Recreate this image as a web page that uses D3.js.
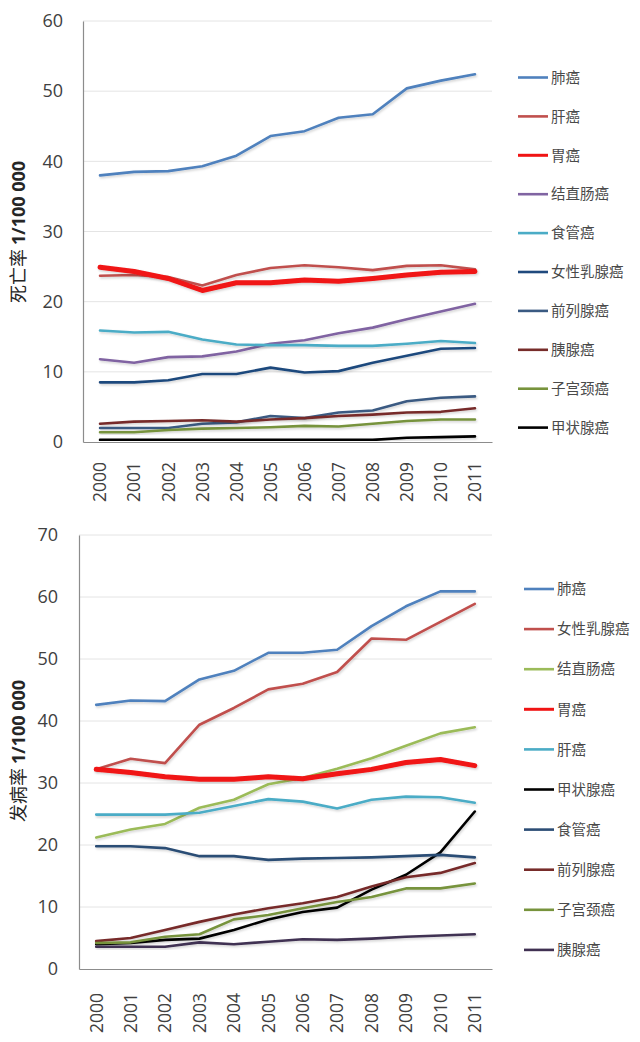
<!DOCTYPE html>
<html><head><meta charset="utf-8">
<script src="https://cdn.jsdelivr.net/npm/d3@7"></script>
<style>
body{margin:0;background:#fff;}
svg{display:block;}
</style></head>
<body>
<svg id="c" width="640" height="1042"></svg>
<script>
// ---- data ----
const years = ["2000","2001","2002","2003","2004","2005","2006","2007","2008","2009","2010","2011"];

// Mortality (1/100 000)
const mortNames = ["肺癌","肝癌","胃癌","结直肠癌","食管癌","女性乳腺癌","前列腺癌","胰腺癌","子宫颈癌","甲状腺癌"];
const mortLung       = [38.0,38.5,38.6,39.3,40.8,43.6,44.3,46.2,46.7,50.4,51.5,52.4];
const mortLiver      = [23.7,23.8,23.5,22.3,23.8,24.8,25.2,24.9,24.5,25.1,25.2,24.6];
const mortStomach    = [24.9,24.3,23.3,21.6,22.7,22.7,23.1,22.9,23.3,23.8,24.2,24.3];
const mortColorectal = [11.8,11.3,12.1,12.2,12.9,14.0,14.5,15.5,16.3,17.5,18.6,19.7];
const mortEsophagus  = [15.9,15.6,15.7,14.6,13.9,13.8,13.8,13.7,13.7,14.0,14.4,14.1];
const mortBreast     = [8.5,8.5,8.8,9.7,9.7,10.6,9.9,10.1,11.3,12.3,13.3,13.4];
const mortProstate   = [2.0,2.0,2.0,2.6,2.8,3.7,3.4,4.2,4.5,5.8,6.3,6.5];
const mortPancreas   = [2.6,2.9,3.0,3.1,2.9,3.2,3.4,3.7,3.9,4.2,4.3,4.8];
const mortCervical   = [1.4,1.4,1.7,1.9,2.0,2.1,2.3,2.2,2.6,3.0,3.2,3.2];
const mortThyroid    = [0.3,0.3,0.3,0.3,0.3,0.3,0.3,0.3,0.3,0.6,0.7,0.8];
const mortColors = ["#4F81BD","#C0504D","#F01414","#8064A2","#4BACC6","#1F497D","#3A5A82","#772C2A","#77933C","#000000"];
const mortTicks = [0,10,20,30,40,50,60];

// Incidence (1/100 000)
const incNames = ["肺癌","女性乳腺癌","结直肠癌","胃癌","肝癌","甲状腺癌","食管癌","前列腺癌","子宫颈癌","胰腺癌"];
const incLung       = [42.6,43.3,43.2,46.7,48.1,51.0,51.0,51.5,55.3,58.5,60.9,60.9];
const incBreast     = [32.2,33.9,33.2,39.4,42.1,45.1,46.0,47.9,53.3,53.1,56.0,58.9];
const incColorectal = [21.2,22.5,23.4,26.0,27.3,29.8,30.8,32.3,34.0,36.0,38.0,39.0];
const incStomach    = [32.2,31.7,31.0,30.6,30.6,31.0,30.7,31.5,32.2,33.3,33.8,32.8];
const incLiver      = [24.9,24.9,24.9,25.2,26.3,27.4,27.0,25.9,27.3,27.8,27.7,26.8];
const incThyroid    = [4.0,4.2,4.7,4.9,6.3,8.0,9.2,9.9,12.8,15.2,18.8,25.4];
const incEsophagus  = [19.8,19.8,19.5,18.2,18.2,17.6,17.8,17.9,18.0,18.2,18.4,18.0];
const incProstate   = [4.5,5.0,6.3,7.6,8.8,9.8,10.6,11.6,13.3,14.8,15.5,17.1];
const incCervical   = [4.2,4.3,5.2,5.6,8.0,8.7,9.8,10.8,11.6,13.0,13.0,13.8];
const incPancreas   = [3.6,3.6,3.6,4.3,4.0,4.4,4.8,4.7,4.9,5.2,5.4,5.6];
const incColors = ["#4F81BD","#C0504D","#9BBB59","#F01414","#4BACC6","#000000","#2C4D75","#772C2A","#77933C","#403152"];
const incTicks = [0,10,20,30,40,50,60,70];

const mortSeries = [mortLung,mortLiver,mortStomach,mortColorectal,mortEsophagus,mortBreast,mortProstate,mortPancreas,mortCervical,mortThyroid];
const incSeries  = [incLung,incBreast,incColorectal,incStomach,incLiver,incThyroid,incEsophagus,incProstate,incCervical,incPancreas];

const svg = d3.select("#c");
const defs = svg.append("defs");
const f = defs.append("filter").attr("id","sh").attr("x","-5%").attr("y","-20%").attr("width","110%").attr("height","140%");
f.append("feDropShadow").attr("dx",1).attr("dy",1.5).attr("stdDeviation",1).attr("flood-color","#000").attr("flood-opacity",0.18);

function drawChart(o){
  const g = svg.append("g");
  const x = d3.scaleBand().domain(years).range([o.left,o.right]);
  const y = d3.scaleLinear().domain([0,o.max]).range([o.bottom,o.top]);

  // gridlines
  g.append("g").selectAll("line").data(o.ticks.filter(t=>t>0)).join("line")
    .attr("x1",o.left).attr("x2",o.right)
    .attr("y1",d=>y(d)).attr("y2",d=>y(d))
    .attr("stroke","#E4E4E4").attr("stroke-width",1);

  // y axis
  const ya = g.append("g").attr("transform",`translate(${o.left},0)`)
    .call(d3.axisLeft(y).tickValues(o.ticks).tickSize(0).tickPadding(o.tickPad));
  ya.select(".domain").attr("stroke","#8C8C8C").attr("stroke-width",1.2);
  ya.selectAll("text").attr("font-family","'Open Sans',sans-serif").attr("font-size",18).attr("fill","#404040");

  // x axis
  const xa = g.append("g").attr("transform",`translate(0,${o.bottom})`)
    .call(d3.axisBottom(x).tickSize(0).tickPadding(0));
  xa.select(".domain").attr("stroke","#8C8C8C").attr("stroke-width",1.2);
  xa.selectAll("text")
    .attr("font-family","'Open Sans',sans-serif").attr("font-size",17.5).attr("fill","#404040")
    .attr("text-anchor","end")
    .attr("transform","rotate(-90)")
    .attr("x",-o.yearPad).attr("y",0).attr("dy","0.36em");

  // lines
  const line = d3.line().x((d,i)=>x(years[i])+x.bandwidth()/2).y(d=>y(d));
  o.series.forEach((s,i)=>{
    g.append("path").datum(s).attr("d",line)
      .attr("fill","none").attr("stroke",o.colors[i])
      .attr("stroke-width", o.names[i]==="胃癌" ? 5 : 2.6)
      .attr("stroke-linejoin","round").attr("stroke-linecap","round")
      .attr("filter","url(#sh)");
  });

  // legend
  const lg = g.append("g");
  o.names.forEach((n,i)=>{
    const ly = o.legTop + i*o.legStep;
    lg.append("line").attr("x1",o.legX).attr("x2",o.legX+30).attr("y1",ly).attr("y2",ly)
      .attr("stroke",o.colors[i]).attr("stroke-width",n==="胃癌"?3:2.6);
    lg.append("text").attr("x",o.legX+33).attr("y",ly).attr("dy","0.36em")
      .attr("font-family","'Noto Sans CJK SC',sans-serif").attr("font-size",14.5).attr("fill","#4a4a4a")
      .text(n);
  });

  // y title
  const t = g.append("text").attr("transform",`translate(${o.titleX},${o.titleY}) rotate(-90)`)
    .attr("text-anchor","middle").attr("dy","0.36em").attr("fill","#262626")
    .attr("font-size",18);
  t.append("tspan").attr("font-family","'Noto Sans CJK SC',serif").text(o.title + " ");
  t.append("tspan").attr("font-family","'Open Sans',sans-serif").attr("font-weight","bold").text("1/100 000");
}

drawChart({left:83,right:492,top:21,bottom:442,max:60,ticks:mortTicks,tickPad:20,yearPad:20,
  series:mortSeries,colors:mortColors,names:mortNames,legX:518,legTop:77.5,legStep:38.9,
  title:"死亡率",titleX:19,titleY:232});

drawChart({left:79,right:492,top:535,bottom:969,max:70,ticks:incTicks,tickPad:21,yearPad:24,
  series:incSeries,colors:incColors,names:incNames,legX:524,legTop:589,legStep:40.1,
  title:"发病率",titleX:19,titleY:751});
</script>
</body></html>
